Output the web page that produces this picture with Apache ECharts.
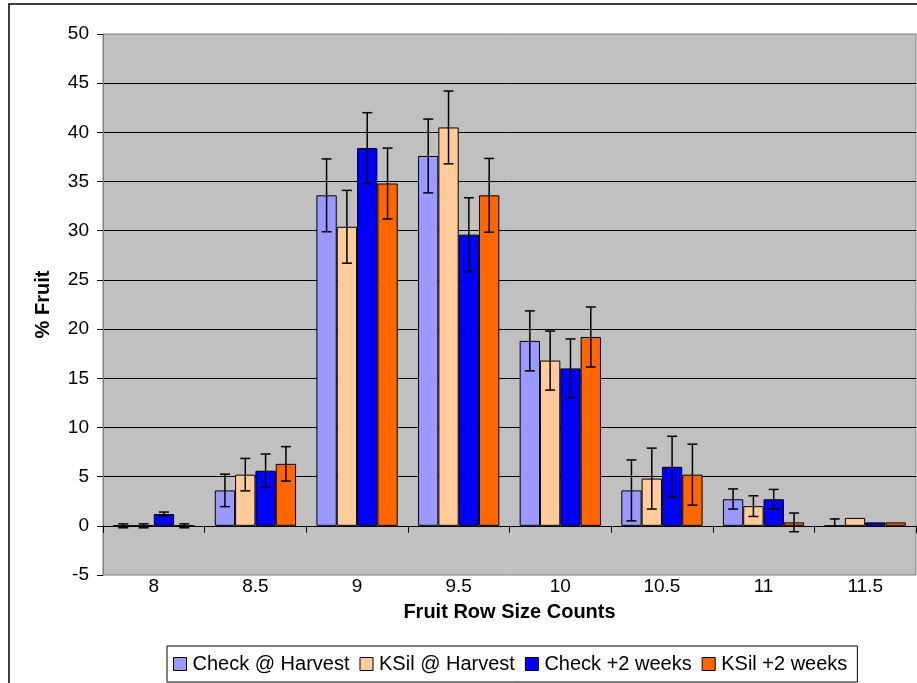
<!DOCTYPE html>
<html>
<head>
<meta charset="utf-8">
<script src="https://cdn.jsdelivr.net/npm/echarts@6/dist/echarts.min.js"></script>
<style>
html,body{margin:0;padding:0;background:#fff;}
#chart{width:917px;height:683px;}
</style>
</head>
<body>
<div id="chart"></div>
<script>
var categories = ['8', '8.5', '9', '9.5', '10', '10.5', '11', '11.5'];
var seriesNames = ['Check @ Harvest', 'KSil @ Harvest', 'Check +2 weeks', 'KSil +2 weeks'];
var checkHarvest = [0, 3.6, 33.6, 37.6, 18.8, 3.6, 2.7, 0];
var ksilHarvest  = [0, 5.2, 30.4, 40.5, 16.8, 4.8, 2.0, 0.8];
var checkWeeks   = [1.2, 5.6, 38.4, 29.6, 16.0, 6.0, 2.7, 0.35];
var ksilWeeks    = [0, 6.3, 34.8, 33.6, 19.2, 5.2, 0.35, 0.35];
var checkHarvestErrUp   = [0.2, 1.65, 3.7, 3.75, 3.05, 3.1, 1.05, 0.7];
var checkHarvestErrDown = [0.2, 1.65, 3.7, 3.75, 3.05, 3.1, 1.0, 0];
var ksilHarvestErrUp    = [0.2, 1.65, 3.7, 3.7, 3.0, 3.1, 1.05, 0];
var ksilHarvestErrDown  = [0.2, 1.65, 3.7, 3.7, 3.0, 3.1, 1.05, 0];
var checkWeeksErrUp     = [0.2, 1.7, 3.6, 3.75, 3.0, 3.1, 1.0, 0];
var checkWeeksErrDown   = [0.2, 1.7, 3.6, 3.75, 3.0, 3.1, 1.0, 0];
var ksilWeeksErrUp      = [0.2, 1.75, 3.6, 3.75, 3.05, 3.1, 0.95, 0];
var ksilWeeksErrDown    = [0.2, 1.75, 3.6, 3.75, 3.05, 3.1, 0.95, 0];
var yTicks = { min: -5, max: 50, interval: 5 };

var colors = ['#9999FF', '#FFCC99', '#0000FF', '#FF6600'];
var values = [checkHarvest, ksilHarvest, checkWeeks, ksilWeeks];
var errUp = [checkHarvestErrUp, ksilHarvestErrUp, checkWeeksErrUp, ksilWeeksErrUp];
var errDown = [checkHarvestErrDown, ksilHarvestErrDown, checkWeeksErrDown, ksilWeeksErrDown];
var FONT = '"Liberation Sans", Arial, sans-serif';
var CAT_GAP = 0.2;

var chart = echarts.init(document.getElementById('chart'), null, { renderer: 'canvas' });

var series = [];
values.forEach(function (vals, si) {
  series.push({
    name: seriesNames[si],
    type: 'bar',
    xAxisIndex: 0,
    yAxisIndex: 0,
    data: vals,
    barGap: '0%',
    barCategoryGap: (CAT_GAP * 100) + '%',
    itemStyle: { color: colors[si], borderColor: '#000', borderWidth: 1 },
    emphasis: { disabled: true },
    z: 2
  });
});
values.forEach(function (vals, si) {
  var data = vals.map(function (v, i) { return [i, v, errUp[si][i], errDown[si][i]]; });
  series.push({
    type: 'custom',
    xAxisIndex: 0,
    yAxisIndex: 0,
    data: data,
    z: 5,
    silent: true,
    renderItem: function (params, api) {
      var idx = api.value(0), v = api.value(1), up = api.value(2), dn = api.value(3);
      if (up === 0 && dn === 0) return null;
      var catW = api.size([1, 0])[0];
      var bw = catW * (1 - CAT_GAP) / values.length;
      var center = api.coord([idx, v]);
      var x = center[0] + (si - (values.length - 1) / 2) * bw;
      var top = api.coord([idx, v + up])[1];
      var bot = api.coord([idx, v - dn])[1];
      var cap = 5;
      var st = { stroke: '#000', lineWidth: 1.5 };
      var children = [
        { type: 'line', shape: { x1: x, y1: top, x2: x, y2: bot }, style: st }
      ];
      if (up > 0) children.push({ type: 'line', shape: { x1: x - cap, y1: top, x2: x + cap, y2: top }, style: st });
      if (dn > 0) children.push({ type: 'line', shape: { x1: x - cap, y1: bot, x2: x + cap, y2: bot }, style: st });
      return { type: 'group', children: children };
    }
  });
});

var option = {
  animation: false,
  backgroundColor: '#fff',
  textStyle: { fontFamily: FONT },
  grid: {
    left: 103, top: 34, width: 813, height: 541,
    show: true, backgroundColor: '#C0C0C0', borderColor: '#808080', borderWidth: 1
  },
  legend: {
    left: 167, top: 646,
    data: seriesNames,
    icon: 'rect',
    itemWidth: 13, itemHeight: 13,
    itemGap: 10,
    padding: [8, 10, 8, 6],
    borderColor: '#000', borderWidth: 1,
    itemStyle: { borderColor: '#000', borderWidth: 1 },
    textStyle: { fontSize: 20, color: '#000', fontFamily: FONT, padding: [0, 0, 0, 1] }
  },
  xAxis: [
    {
      type: 'category', data: categories, position: 'bottom',
      axisLine: { show: false, onZero: false },
      axisTick: { show: false },
      axisLabel: { fontSize: 19, color: '#000', margin: 2, fontFamily: FONT },
      name: 'Fruit Row Size Counts', nameLocation: 'middle', nameGap: 27,
      nameTextStyle: { fontSize: 20, fontWeight: 'bold', color: '#000', fontFamily: FONT }
    },
    {
      type: 'category', data: categories, position: 'bottom',
      axisLine: { show: true, onZero: true, lineStyle: { color: '#000', width: 1 } },
      axisTick: { show: true, length: 7, lineStyle: { color: '#000' } },
      axisLabel: { show: false }
    }
  ],
  yAxis: {
    type: 'value', min: yTicks.min, max: yTicks.max, interval: yTicks.interval,
    axisLine: { show: true, lineStyle: { color: '#808080' } },
    axisTick: { show: true, length: 6, lineStyle: { color: '#000' } },
    axisLabel: { fontSize: 19, color: '#000', margin: 14, fontFamily: FONT },
    splitLine: { show: true, showMinLine: false, showMaxLine: false, lineStyle: { color: '#000', width: 1 } },
    name: '% Fruit', nameLocation: 'middle', nameGap: 50,
    nameTextStyle: { fontSize: 20, fontWeight: 'bold', color: '#000', fontFamily: FONT }
  },
  graphic: [
    { type: 'rect', shape: { x: 9, y: 4, width: 1000, height: 1000 }, style: { fill: 'none', stroke: '#000', lineWidth: 1.5 }, z: 100, silent: true }
  ],
  series: series
};
chart.setOption(option);
</script>
</body>
</html>
